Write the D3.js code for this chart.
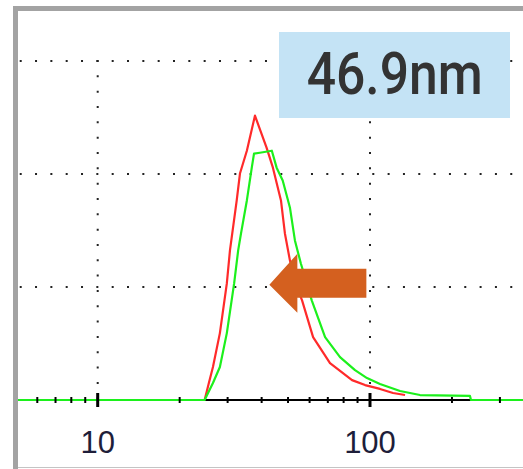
<!DOCTYPE html>
<html>
<head>
<meta charset="utf-8">
<script src="https://cdn.jsdelivr.net/npm/d3@7"></script>
<style>
  body { margin: 0; background: #fff; }
  svg { display: block; }
</style>
</head>
<body>
<div id="chart"></div>
<script>
// particle size distribution, diameter in nm (log axis) vs frequency
var redDiam = [24.7, 25.6, 26.5, 28.1, 29.8, 30.6, 32.4, 33.3, 35.3, 37.8, 41.7, 44.0,
    47.1, 48.7, 50.8, 53.5, 56.3, 61.8, 71.3, 85.9, 95.9, 108.8, 121.5, 134.5];
var redPct = [0, 0.75, 1.46, 2.96, 5.16, 6.62, 8.83, 10.02, 11.03, 12.58, 11.17, 10.28,
    8.83, 7.37, 6.18, 5.08, 4.41, 2.78, 1.63, 0.88, 0.66, 0.49, 0.31, 0.22];

var greenDiam = [4, 24.7, 26.5, 28.1, 29.8, 31.7, 32.8, 33.6, 35.3, 36.8, 37.5, 39.4,
    43.6, 45.4, 47.8, 50.8, 53.0, 55.7, 61.1, 68.4, 77.6, 88.1, 97.5, 108.8, 128.9,
    152.6, 232.9, 234.9, 400];
var greenPct = [0, 0, 0.75, 1.46, 2.96, 5.16, 6.62, 7.37, 8.83, 10.28, 10.90, 10.94,
    11.03, 10.28, 9.71, 8.52, 7.06, 6.05, 4.41, 2.78, 1.90, 1.32, 0.97, 0.71, 0.40,
    0.22, 0.18, 0, 0];

var xLabels = [10, 100];
var yGrid = [5, 10, 15];
var peakLabel = "46.9nm";
var arrowAt = [42.7, 5.1]; // where the arrow tip points (nm, %)

var width = 523, height = 469;
var plot = { left: 18, top: 11, right: 523, bottom: 469 };

var x = d3.scaleLog().domain([10, 100]).range([97.7, 370]);
var y = d3.scaleLinear().domain([0, 15]).range([400, 61]);

var svg = d3.select("#chart")
    .append("svg")
    .attr("width", width)
    .attr("height", height);

svg.append("defs").append("clipPath")
    .attr("id", "clip")
    .append("rect")
    .attr("x", plot.left)
    .attr("y", plot.top)
    .attr("width", plot.right - plot.left)
    .attr("height", plot.bottom - plot.top);

// frame
svg.append("rect")
    .attr("x", 15.5)
    .attr("y", 8.5)
    .attr("width", 540)
    .attr("height", 500)
    .attr("fill", "none")
    .attr("stroke", "#a3a3a3")
    .attr("stroke-width", 5);
svg.append("line")
    .attr("x1", plot.left).attr("x2", width)
    .attr("y1", 467.5).attr("y2", 467.5)
    .attr("stroke", "#c4c4c4")
    .attr("stroke-width", 1);

var g = svg.append("g").attr("clip-path", "url(#clip)");

// dotted grid
g.selectAll(".hgrid")
    .data(yGrid)
    .enter()
    .append("line")
    .attr("class", "hgrid")
    .attr("x1", 19.7).attr("x2", width)
    .attr("y1", d => y(d)).attr("y2", d => y(d))
    .attr("stroke", "#222")
    .attr("stroke-width", 2)
    .attr("stroke-dasharray", "2,13.33");

g.selectAll(".vgrid")
    .data(xLabels)
    .enter()
    .append("line")
    .attr("class", "vgrid")
    .attr("x1", d => x(d)).attr("x2", d => x(d))
    .attr("y1", y(15) - 1).attr("y2", y(0))
    .attr("stroke", "#222")
    .attr("stroke-width", 2)
    .attr("stroke-dasharray", "2,13.33");

// baseline
g.append("line")
    .attr("x1", plot.left).attr("x2", width)
    .attr("y1", y(0)).attr("y2", y(0))
    .attr("stroke", "#000")
    .attr("stroke-width", 2);

var line = d3.line()
    .x(d => x(d[0]))
    .y(d => y(d[1]));

g.append("path")
    .datum(d3.zip(redDiam, redPct))
    .attr("d", line)
    .attr("fill", "none")
    .attr("stroke", "#ff2a2a")
    .attr("stroke-width", 2.2)
    .attr("stroke-linejoin", "round");

g.append("path")
    .datum(d3.zip(greenDiam, greenPct))
    .attr("d", line)
    .attr("fill", "none")
    .attr("stroke", "#1cf01c")
    .attr("stroke-width", 2.2)
    .attr("stroke-linejoin", "round");

// ticks on the baseline
var domainAll = [x.invert(plot.left), x.invert(plot.right)];
var tickVals = d3.scaleLog().domain(domainAll).ticks();
g.selectAll(".tick")
    .data(tickVals)
    .enter()
    .append("line")
    .attr("class", "tick")
    .attr("x1", d => x(d)).attr("x2", d => x(d))
    .attr("y1", d => xLabels.indexOf(d) >= 0 ? y(0) - 7 : y(0) - 3)
    .attr("y2", d => xLabels.indexOf(d) >= 0 ? y(0) + 7 : y(0) + 3)
    .attr("stroke", "#000")
    .attr("stroke-width", d => xLabels.indexOf(d) >= 0 ? 3 : 2);

svg.selectAll(".xlabel")
    .data(xLabels)
    .enter()
    .append("text")
    .attr("class", "xlabel")
    .attr("x", d => x(d))
    .attr("y", 453)
    .attr("text-anchor", "middle")
    .attr("font-family", "Liberation Sans, Arial, sans-serif")
    .attr("font-size", 31)
    .attr("fill", "#1e1e3a")
    .text(d => d);

// label box
svg.append("rect")
    .attr("x", 279)
    .attr("y", 32)
    .attr("width", 231)
    .attr("height", 86)
    .attr("fill", "#c4e3f5");
svg.append("text")
    .attr("x", 394.7)
    .attr("y", 93.5)
    .attr("text-anchor", "middle")
    .attr("font-family", "Roboto, sans-serif")
    .attr("font-weight", 500)
    .attr("font-size", 60)
    .attr("textLength", 176)
    .attr("lengthAdjust", "spacingAndGlyphs")
    .attr("fill", "#333")
    .text(peakLabel);

// arrow pointing at the curve
var tx = x(arrowAt[0]), ty = y(arrowAt[1]);
var arrow = [
    [0, 0], [28, -31], [28, -16], [97, -16], [97, 13], [28, 13], [28, 28]
];
svg.append("polygon")
    .attr("points", arrow.map(p => (tx + p[0]) + "," + (ty + p[1])).join(" "))
    .attr("fill", "#d4601f");
</script>
</body>
</html>
